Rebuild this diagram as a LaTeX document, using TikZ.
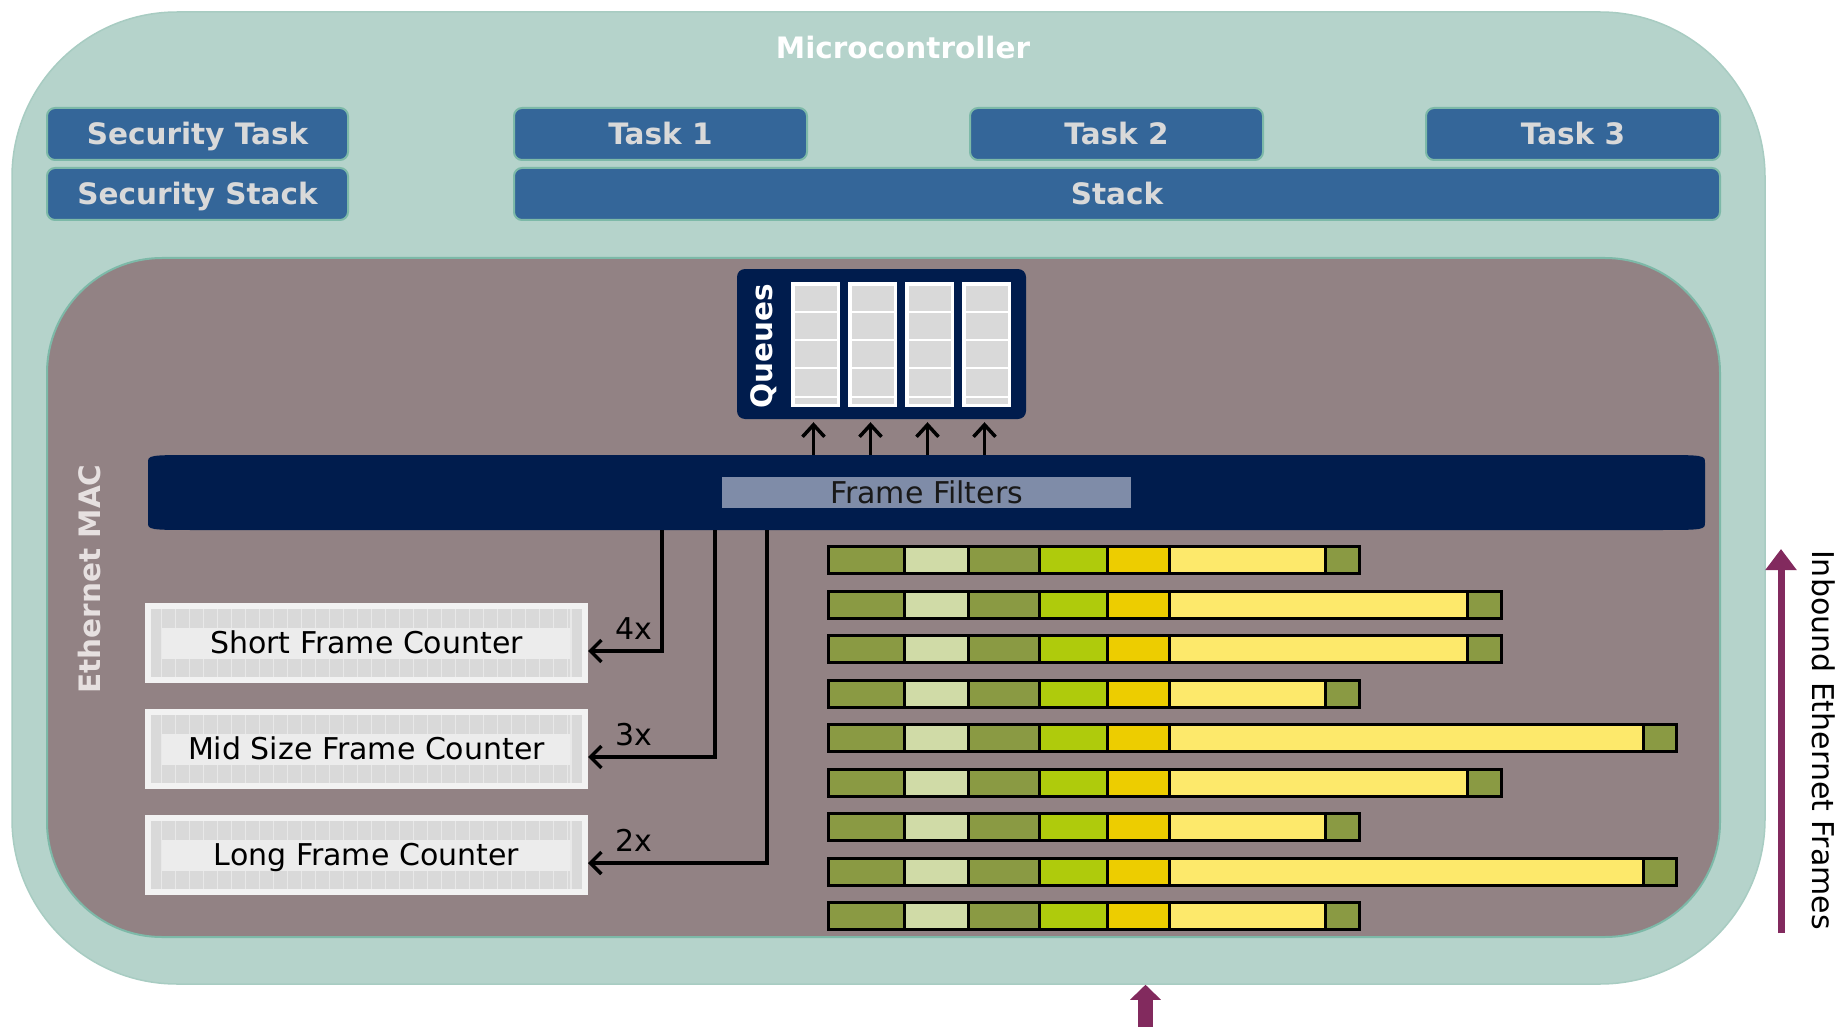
\documentclass[tikz,border=0pt]{standalone}
\usepackage{fontspec}
\setmainfont{DejaVu Sans}
\usetikzlibrary{arrows.meta}
\definecolor{tealbg}{HTML}{B5D3CB}
\definecolor{tealline}{HTML}{7DB9A8}
\definecolor{tealedge}{HTML}{A8CCC2}
\definecolor{mauve}{HTML}{928284}
\definecolor{bluebox}{HTML}{346699}
\definecolor{navy}{HTML}{001C4D}
\definecolor{filtlabel}{HTML}{7F8CA8}
\definecolor{plum}{HTML}{822A5E}
\definecolor{gA}{HTML}{8A9A43}
\definecolor{gB}{HTML}{D0DBA7}
\definecolor{gC}{HTML}{AFCB0C}
\definecolor{gD}{HTML}{EDCD00}
\definecolor{gE}{HTML}{FDE96B}
\definecolor{boxtxt}{HTML}{D9D9D9}
\definecolor{maclbl}{HTML}{E6E0E0}
\definecolor{cellgray}{HTML}{D9D9D9}
\definecolor{cellsep}{HTML}{E8E8E8}
\definecolor{cellband}{HTML}{ECECEC}
\definecolor{frameW}{HTML}{F2F2F2}
\begin{document}
\begin{tikzpicture}[x=1pt,y=-1pt,
  txt/.style={font=\fontsize{30}{36}\selectfont, text height=21.5pt, text depth=0pt, inner sep=0pt},
  btxt/.style={font=\fontsize{29.5}{35}\selectfont\bfseries, text height=21.5pt, text depth=0pt, inner sep=0pt},
  taskbox/.style={btxt, draw=tealline, line width=2pt, fill=bluebox, rounded corners=8pt, text=boxtxt, minimum height=52pt},
  counter/.style={txt, draw=frameW, line width=6pt, minimum width=437pt, minimum height=74pt},
  qcol/.style={fill=white, inner sep=0pt, minimum width=49pt, minimum height=125pt},
  arr/.style={line width=3.5pt, -{Straight Barb[length=11pt,width=22pt]}},
  uparr/.style={line width=3.5pt, -{Straight Barb[length=12pt,width=22pt]}},
  seg/.style={draw=black, line width=3pt},
]
\useasboundingbox (0,0) rectangle (1837,1027);
\fill[white] (0,0) rectangle (1837,1027);

% Microcontroller
\node[draw=tealedge, line width=1.5pt, fill=tealbg, rounded corners=165pt, minimum width=1753pt, minimum height=972pt, inner sep=0pt] (mcu) at (888.5,498) {};
\node[btxt, text=white, anchor=base] (mcutitle) at (903,59) {Microcontroller};

% tasks
\node[taskbox, minimum width=301pt] (sectask) at (197.5,134) {Security Task};
\node[taskbox, minimum width=301pt] (secstack) at (197.5,194) {Security Stack};
\node[taskbox, minimum width=293pt] (task1) at (660.5,134) {Task 1};
\node[taskbox, minimum width=293pt] (task2) at (1116.5,134) {Task 2};
\node[taskbox, minimum width=294pt] (task3) at (1573,134) {Task 3};
\node[taskbox, minimum width=1206pt] (stack) at (1117,194) {Stack};

% Ethernet MAC
\node[draw=tealline, line width=2pt, fill=mauve, rounded corners=115pt, minimum width=1673pt, minimum height=679pt, inner sep=0pt] (mac) at (883.5,597.5) {};
\node[btxt, text=maclbl, rotate=90, anchor=base] (maclabel) at (100,579) {Ethernet MAC};

% Queues
\node[fill=navy, rounded corners=8pt, minimum width=289pt, minimum height=150pt, inner sep=0pt] (queues) at (881.5,344) {};
\node[btxt, text=white, rotate=90, anchor=base] (queuelabel) at (772,346) {Queues};
\foreach \n/\xl in {q1/791,q2/848,q3/905,q4/962}{
  \node[qcol] (\n) at (\xl+24.5,344.5) {};
  \fill[cellgray] (\xl+3.5,285.5) rectangle (\xl+45.5,403.5);
  \foreach \yy in {312,340,368,397}{
    \draw[white, line width=2pt] (\xl+3.5,\yy) -- (\xl+45.5,\yy);
  }
}

% Frame filter bar
\fill[navy] (200,455) -- (1653,455) .. controls (1705,455) .. (1705,463) -- (1705,522) .. controls (1705,530) .. (1653,530) -- (200,530) .. controls (148,530) .. (148,522) -- (148,463) .. controls (148,455) .. (200,455) -- cycle;
\node[inner sep=0pt, minimum width=1557pt, minimum height=75pt] (filt) at (926.5,492.5) {};
\node[txt, fill=filtlabel, minimum width=409pt, minimum height=31pt, text=black!90] (filtlabel) at (926.5,492.5) {Frame Filters};

% arrows up to queues
\foreach \n in {q1,q2,q3,q4}{
  \draw[uparr, shorten >=3pt] ([xshift=-2pt]\n.south |- filt.north) -- ([xshift=-2pt]\n.south |- queues.south);
}

% counters (background pattern)
\foreach \yt in {603,709,815}{
  \fill[cellgray] (151,\yt+6) rectangle (582,\yt+74);
  \foreach \k in {0,...,29}{
    \draw[cellsep, line width=1.5pt] (161.5+14*\k,\yt+6) -- (161.5+14*\k,\yt+74);
  }
  \draw[cellsep, line width=1.5pt] (571,\yt+6) -- (571,\yt+74);
  \fill[cellband] (162,\yt+25) rectangle (570,\yt+56);
}
\node[counter] (sfc) at (366.5,643) {Short Frame Counter};
\node[counter] (mfc) at (366.5,749) {Mid Size Frame Counter};
\node[counter] (lfc) at (366.5,855) {Long Frame Counter};

% connectors filter -> counters
\coordinate (d1) at (662,530);
\coordinate (d2) at (715,530);
\coordinate (d3) at (767,530);
\draw[arr] (d1) |- ([yshift=-8pt]sfc.east);
\draw[arr] (d2) |- ([yshift=-8pt]mfc.east);
\draw[arr] (d3) |- ([yshift=-8pt]lfc.east);
\node[txt] (l4) at (634,629) {4x};
\node[txt] (l3) at (634,735) {3x};
\node[txt] (l2) at (634,841) {2x};

% ethernet frames
\foreach \i/\ye/\ee in {0/1325/1359, 1/1467/1501, 2/1467/1501, 3/1325/1359, 4/1643/1676, 5/1467/1501, 6/1325/1359, 7/1643/1676, 8/1325/1359}{
  \pgfmathsetmacro\yt{546.5+44.5*\i}
  \pgfmathsetmacro\yb{\yt+27}
  \filldraw[seg, fill=gA] (828.5,\yt) rectangle (904,\yb);
  \filldraw[seg, fill=gB] (904,\yt) rectangle (968,\yb);
  \filldraw[seg, fill=gA] (968,\yt) rectangle (1039,\yb);
  \filldraw[seg, fill=gC] (1039,\yt) rectangle (1107,\yb);
  \filldraw[seg, fill=gD] (1107,\yt) rectangle (1169,\yb);
  \filldraw[seg, fill=gE] (1169,\yt) rectangle (\ye,\yb);
  \filldraw[seg, fill=gA] (\ye,\yt) rectangle (\ee,\yb);
}

% inbound arrows
\coordinate (ra1) at (1781,933);
\coordinate (ra2) at (1781,549);
\draw[plum, line width=7pt, -{Triangle[length=21pt,width=30pt]}] (ra1) -- (ra2);
\node[txt, rotate=-90, anchor=base] (inbound) at (1812,740) {Inbound Ethernet Frames};
\coordinate (ba) at (1145.5,1030);
\draw[plum, line width=15pt, -{Triangle[length=15pt,width=30pt]}] (ba) -- (ba |- mcu.south);
\end{tikzpicture}
\end{document}
